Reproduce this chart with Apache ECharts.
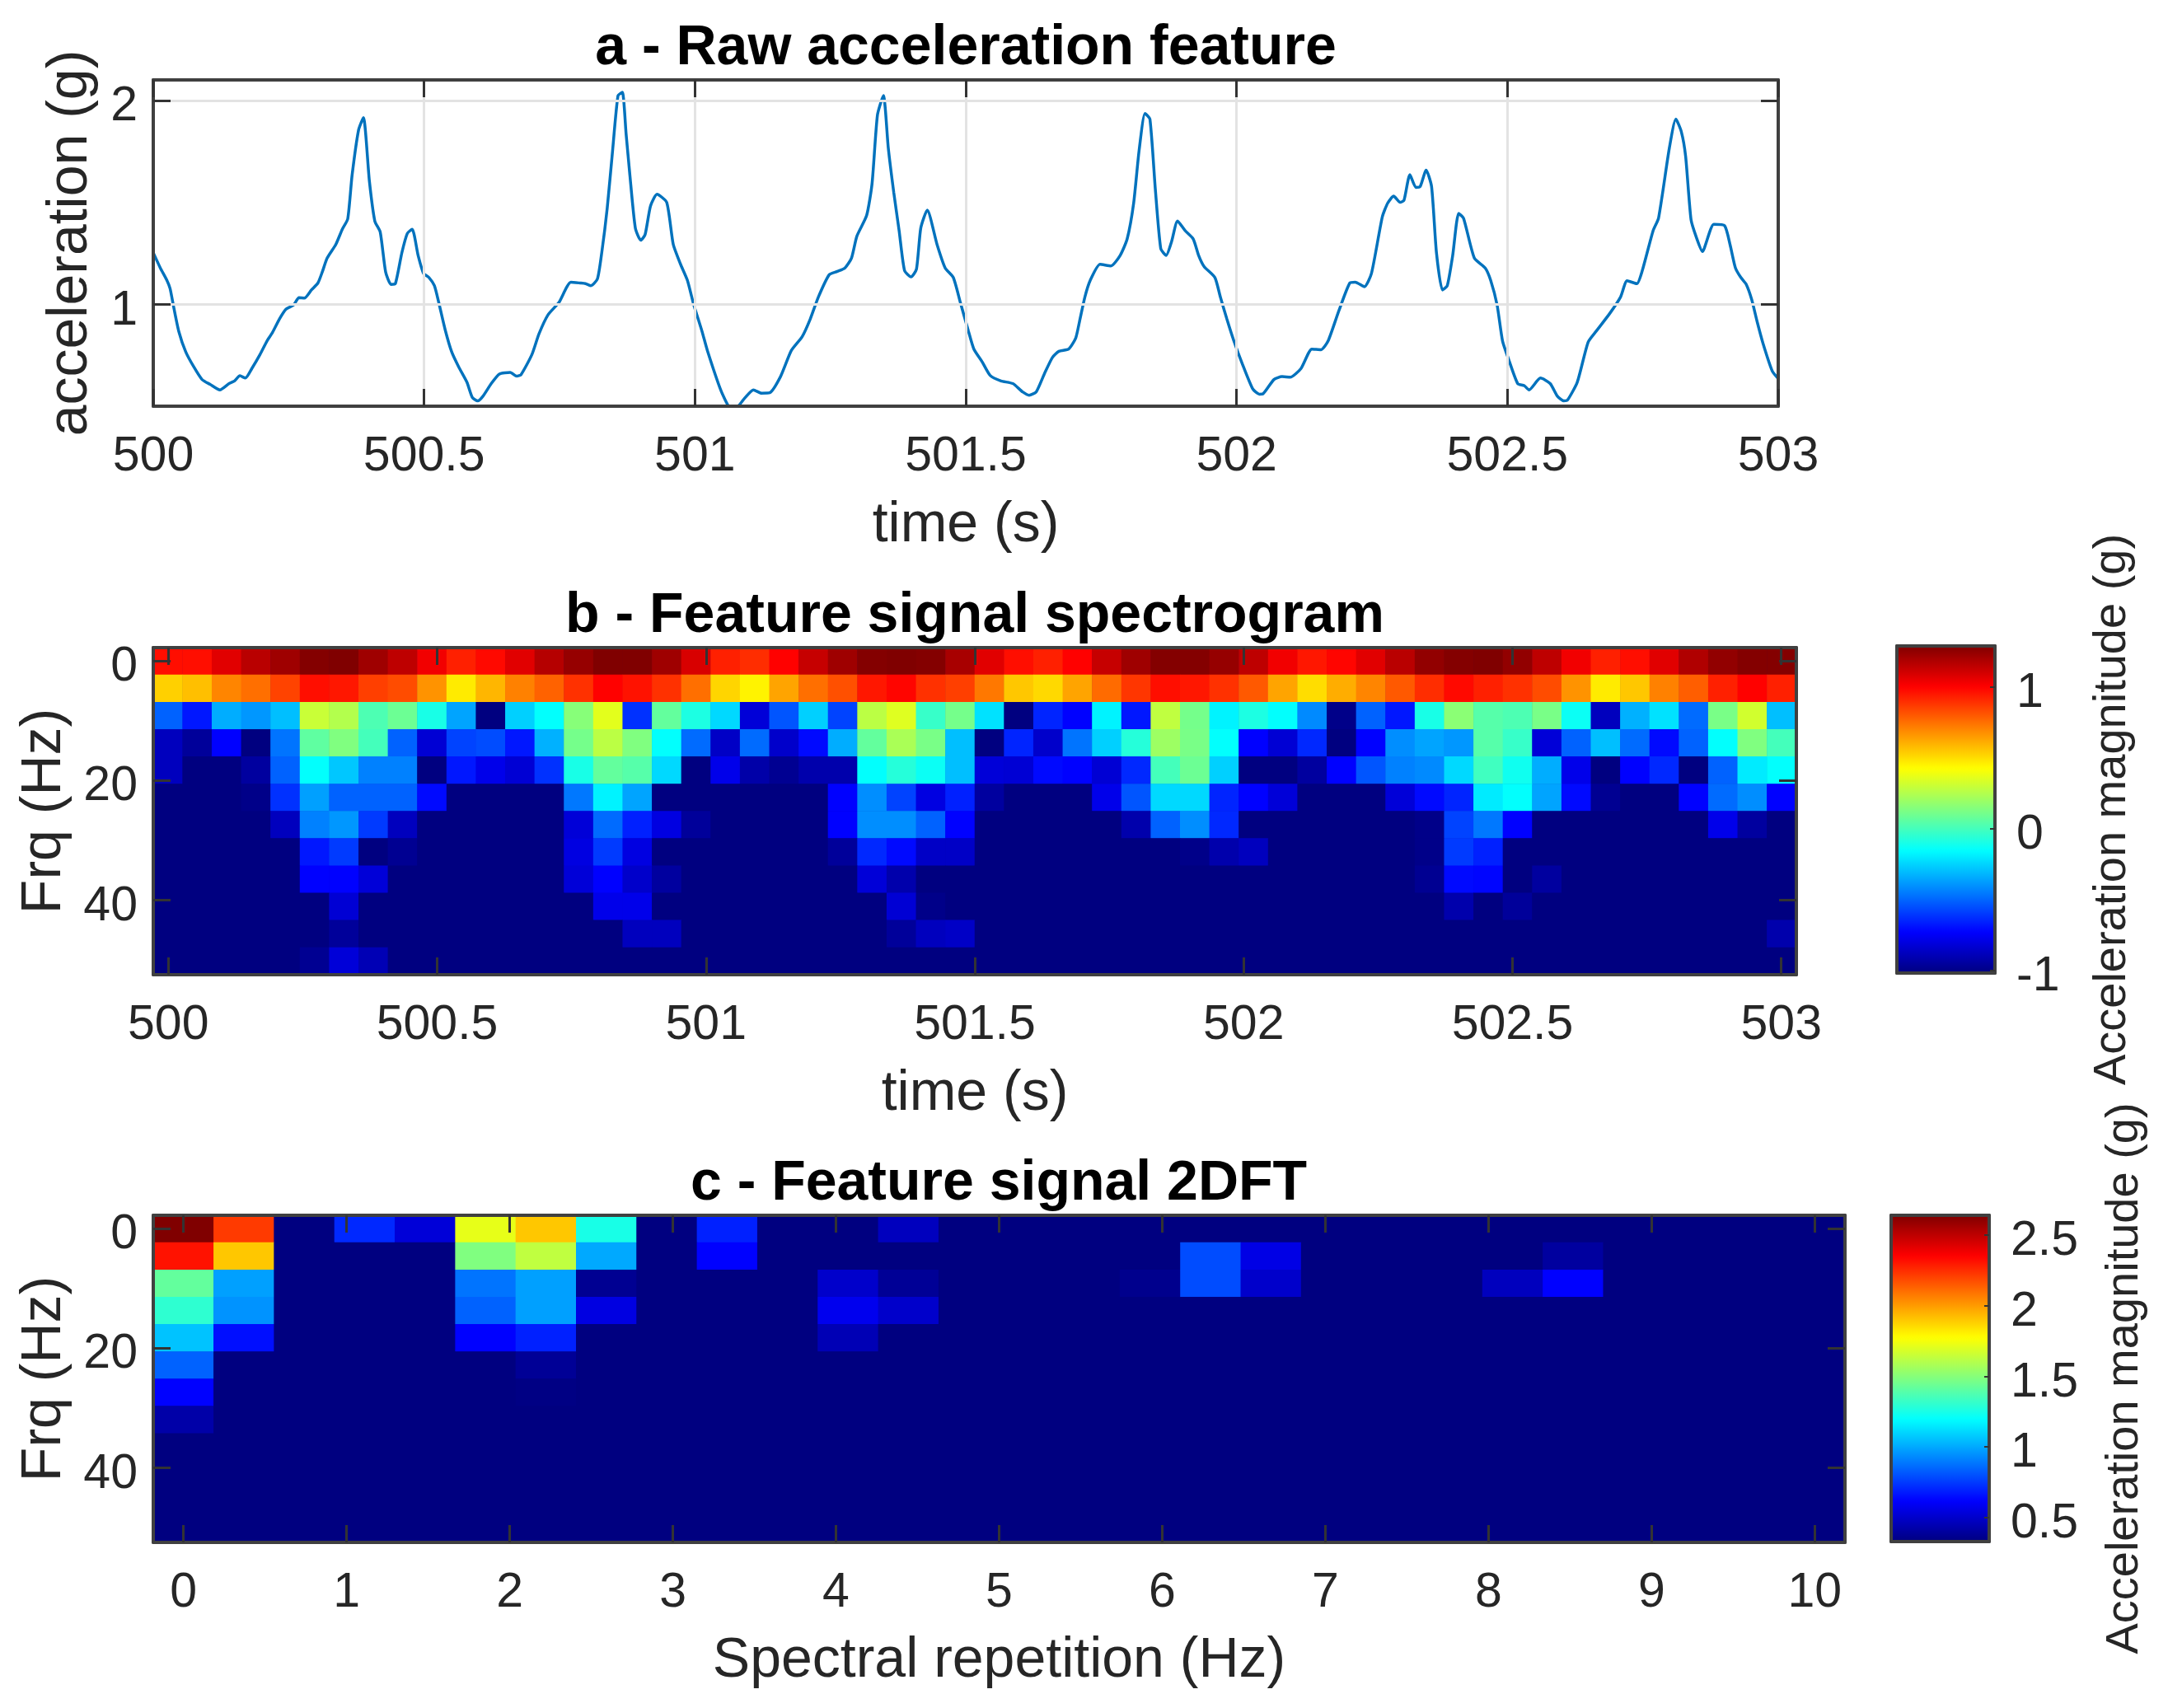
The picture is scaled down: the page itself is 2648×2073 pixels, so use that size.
<!DOCTYPE html>
<html>
<head>
<meta charset="utf-8">
<title>Feature signal</title>
<style>
html, body { margin: 0; padding: 0; background: #fff; }
#main { width: 2648px; height: 2073px; }
</style>
<script src="https://cdn.jsdelivr.net/npm/echarts@6/dist/echarts.min.js"></script>
</head>
<body>
<div id="main"></div>
<script>
/****************data*******************/
var rawTime = [
  500.000,500.013,500.025,500.031,500.038,500.047,500.060,500.075,500.090,500.105,500.123,500.140,500.150,500.160,500.170,500.182,
  500.197,500.210,500.220,500.233,500.245,500.259,500.269,500.279,500.292,500.304,500.312,500.321,500.337,500.349,500.359,500.367,
  500.379,500.388,500.399,500.409,500.419,500.429,500.439,500.447,500.459,500.469,500.478,500.489,500.499,500.509,500.519,500.527,
  500.539,500.551,500.564,500.579,500.589,500.599,500.609,500.624,500.639,500.659,500.671,500.679,500.699,500.712,500.729,500.749,
  500.771,500.788,500.798,500.808,500.820,500.828,500.838,500.848,500.858,500.866,500.873,500.880,500.890,500.900,500.908,500.918,
  500.930,500.948,500.960,500.973,500.986,500.998,501.013,501.023,501.048,501.063,501.073,501.081,501.093,501.108,501.123,501.138,
  501.158,501.178,501.198,501.213,501.228,501.248,501.263,501.277,501.289,501.299,501.317,501.327,501.337,501.348,501.357,501.367,
  501.377,501.387,501.399,501.409,501.417,501.429,501.447,501.462,501.477,501.490,501.505,501.515,501.530,501.545,501.565,501.587,
  501.605,501.617,501.630,501.645,501.660,501.672,501.690,501.703,501.710,501.720,501.730,501.748,501.768,501.785,501.798,501.810,
  501.820,501.831,501.840,501.850,501.860,501.870,501.880,501.891,501.905,501.920,501.930,501.940,501.960,501.970,501.982,501.995,
  502.010,502.030,502.042,502.049,502.069,502.084,502.099,502.119,502.139,502.156,502.169,502.189,502.209,502.219,502.236,502.249,
  502.269,502.279,502.290,502.302,502.309,502.320,502.331,502.339,502.350,502.360,502.369,502.380,502.389,502.399,502.410,502.419,
  502.439,502.459,502.469,502.481,502.491,502.502,502.519,502.531,502.540,502.561,502.579,502.592,502.604,502.611,502.629,502.649,
  502.664,502.689,502.709,502.721,502.739,502.749,502.769,502.779,502.799,502.811,502.821,502.829,502.839,502.849,502.860,502.881,
  502.901,502.911,502.921,502.931,502.941,502.951,502.961,502.972,502.989,503.000
];
var rawAccel = [
  1.253,1.178,1.118,1.077,0.982,0.868,0.766,0.692,0.631,0.607,0.580,0.611,0.624,0.649,0.638,0.685,
  0.753,0.820,0.861,0.928,0.976,0.996,1.032,1.030,1.070,1.104,1.158,1.226,1.293,1.368,1.418,1.631,
  1.854,1.915,1.604,1.408,1.354,1.158,1.097,1.101,1.253,1.347,1.368,1.239,1.151,1.131,1.091,1.009,
  0.874,0.766,0.692,0.618,0.543,0.526,0.550,0.611,0.658,0.666,0.647,0.655,0.753,0.854,0.949,1.009,
  1.108,1.104,1.101,1.091,1.124,1.253,1.469,1.753,2.023,2.039,1.834,1.631,1.374,1.314,1.341,1.482,
  1.539,1.499,1.293,1.199,1.118,0.996,0.868,0.773,0.577,0.496,0.482,0.503,0.543,0.580,0.564,0.566,
  0.645,0.773,0.841,0.928,1.036,1.145,1.161,1.178,1.226,1.334,1.435,1.591,1.928,2.023,1.766,1.550,
  1.361,1.165,1.134,1.172,1.374,1.462,1.293,1.178,1.131,1.009,0.868,0.780,0.719,0.651,0.624,0.611,
  0.570,0.554,0.570,0.658,0.739,0.769,0.780,0.834,0.915,1.036,1.118,1.196,1.188,1.239,1.320,1.496,
  1.753,1.935,1.908,1.564,1.273,1.239,1.307,1.408,1.361,1.320,1.239,1.185,1.131,1.036,0.928,0.820,
  0.712,0.584,0.559,0.561,0.631,0.645,0.642,0.685,0.780,0.777,0.820,0.969,1.104,1.108,1.086,1.151,
  1.428,1.496,1.530,1.500,1.509,1.635,1.573,1.577,1.658,1.577,1.253,1.070,1.091,1.239,1.445,1.422,
  1.226,1.178,1.118,0.996,0.820,0.732,0.611,0.601,0.580,0.638,0.611,0.550,0.526,0.530,0.618,0.814,
  0.868,0.955,1.036,1.115,1.101,1.165,1.361,1.422,1.766,1.908,1.847,1.726,1.415,1.327,1.259,1.392,
  1.385,1.293,1.178,1.131,1.097,1.023,0.915,0.807,0.672,0.635
];

// spectrogram, one list per frequency row, 56 columns, L is the colour floor
var L = -1.02;
var spectroFreqs = ['0', '4.5', '9', '13.6', '18', '22.7', '27', '32', '36', '41', '45.5', '50'];
var spectroRow0 = [.97,.97,1.07,1.16,1.22,1.28,1.29,1.22,1.15,1.03, .93,.98,1.07,1.17,1.24,1.29,1.29,1.22,1.09,.93, .9,1,1.13,1.22,1.28,1.29,1.28,1.2,1.07,.97, .93,1,1.13,1.22,1.28,1.28,1.24,1.15,1.03,.95, .99,1.07,1.16,1.25,1.28,1.29,1.25,1.15,1.03,.93, .97,1.07,1.18,1.25,1.28,1.28];
var spectroRow1 = [.53,.57,.7,.75,.85,.97,.95,.86,.83,.67, .47,.59,.71,.78,.89,1,.96,.89,.75,.52, .45,.63,.75,.82,.95,.99,.89,.86,.73,.55, .51,.63,.76,.88,.97,.95,.89,.8,.63,.5, .61,.7,.8,.9,.98,.93,.89,.83,.67,.47, .55,.71,.79,.93,1,.93];
var spectroRow2 = [-.51,-.68,-.34,-.39,-.3,.3,.25,.02,.09,-.1, -.36,L,-.26,-.15,.15,.36,-.62,.07,-.09,-.24, -.82,-.54,-.26,-.58,.27,.35,-.03,.11,-.22,L, -.65,-.73,-.18,-.68,.28,.11,-.18,-.09,-.15,-.42, -1,-.51,-.68,-.1,.16,.04,.02,.12,-.13,-.88, -.33,-.22,-.49,.12,.32,-.3];
var spectroRow3 = [-.88,-.96,-.73,L,-.47,.06,.135,0,-.51,-.83, -.58,-.56,-.68,-.33,.11,.27,.135,-.15,-.49,-.86, -.49,-.85,-.71,-.34,.07,.23,.12,-.3,L,-.65, -.85,-.47,-.26,-.07,.2,.12,-.15,-.73,-.83,-.64, L,-.73,-.41,-.36,-.39,.04,-.03,-.82,-.51,-.3, -.49,-.71,-.51,-.15,.135,0];
var spectroRow4 = [-.88,L,L,-.95,-.51,-.15,-.28,-.44,-.44,L, -.68,-.78,-.83,-.62,-.1,.07,.04,-.24,L,-.78, -.93,-.98,-.92,-.92,-.15,-.07,-.13,-.3,-.82,-.83, -.71,-.73,-.83,-.64,0,.09,-.26,L,L,-.95, -.73,-.54,-.44,-.42,-.24,-.01,-.12,-.34,-.78,L, -.73,-.64,L,-.51,-.2,-.15];
var spectroRow5 = [L,L,L,-1,-.62,-.37,-.51,-.51,-.51,-.71, L,L,L,L,-.46,-.18,-.36,L,L,L, L,L,L,-.73,-.41,-.58,-.8,-.66,-.95,L, L,L,-.78,-.54,-.24,-.24,-.65,-.73,-.82,L, L,L,-.82,-.71,-.65,-.2,-.15,-.36,-.71,-.98, L,L,-.73,-.49,-.41,-.73];
var spectroRow6 = [L,L,L,L,-.88,-.44,-.39,-.6,-.88,L, L,L,L,L,-.82,-.49,-.66,-.8,-.96,L, L,L,L,-.73,-.41,-.41,-.51,-.73,L,L, L,L,L,-.92,-.51,-.41,-.64,L,L,L, L,L,L,-1,-.58,-.46,-.73,L,L,L, L,L,L,-.78,-.95,L];
var spectroRow7 = [L,L,L,L,L,-.68,-.6,L,-.98,L, L,L,L,L,-.8,-.6,-.8,L,L,L, L,L,L,-.96,-.64,-.71,-.86,-.86,L,L, L,L,L,L,L,-1,-.92,-.88,L,L, L,L,L,-1,-.6,-.66,L,L,L,L, L,L,L,L,L,L];
var spectroRow8 = [L,L,L,L,L,-.73,-.73,-.82,L,L, L,L,L,L,-.82,-.73,-.85,-.95,L,L, L,L,L,L,-.82,-.92,L,L,L,L, L,L,L,L,L,L,L,L,L,L, L,L,L,-.98,-.71,-.72,L,-.95,L,L, L,L,L,L,L,L];
var spectroRow9 = [L,L,L,L,L,L,-.83,L,L,L, L,L,L,L,L,-.78,-.78,L,L,L, L,L,L,L,L,-.83,-1,L,L,L, L,L,L,L,L,L,L,L,L,L, L,L,L,L,-.92,L,-.96,L,L,L, L,L,L,L,L,L];
var spectroRow10 = [L,L,L,L,L,L,-.96,L,L,L, L,L,L,L,L,L,-.88,-.88,L,L, L,L,L,L,L,-.96,-.88,-.86,L,L, L,L,L,L,L,L,L,L,L,L, L,L,L,L,L,L,L,L,L,L, L,L,L,L,L,-.92];
var spectroRow11 = [L,L,L,L,L,-.98,-.82,-.9,L,L, L,L,L,L,L,L,L,L,L,L, L,L,L,L,L,L,L,L,L,L, L,L,L,L,L,L,L,L,L,L, L,L,L,L,L,L,L,L,L,L, L,L,L,L,L,L];
var spectroRows = [spectroRow0, spectroRow1, spectroRow2, spectroRow3, spectroRow4, spectroRow5, spectroRow6, spectroRow7, spectroRow8, spectroRow9, spectroRow10, spectroRow11];

// 2DFT, one list per frequency row, 28 columns, F is the colour floor
var F = .33;
var dftRow0 = [2.64,2.22,F,.71,.53,1.72,1.9,1.25,F,.69, F,F,.47,F,F,F,F,F,F,F, F,F,F,F,F,F,F,F];
var dftRow1 = [2.31,1.9,F,F,F,1.485,1.63,1,F,.62, F,F,F,F,F,F,F,.79,.56,F, F,F,F,.4,F,F,F,F];
var dftRow2 = [1.42,.98,F,F,F,.88,.98,.37,F,F, F,.5,.38,F,F,F,.36,.79,.5,F, F,F,.47,.62,F,F,F,F];
var dftRow3 = [1.3,.95,F,F,F,.84,.98,.55,F,F, F,.58,.5,F,F,F,F,F,F,F, F,F,F,F,F,F,F,F];
var dftRow4 = [1.06,.65,F,F,F,.62,.69,F,F,F, F,.45,F,F,F,F,F,F,F,F, F,F,F,F,F,F,F,F];
var dftRow5 = [.84,F,F,F,F,F,.38,F,F,F, F,F,F,F,F,F,F,F,F,F, F,F,F,F,F,F,F,F];
var dftRow6 = [.62,F,F,F,F,F,.34,F,F,F, F,F,F,F,F,F,F,F,F,F, F,F,F,F,F,F,F,F];
var dftRow7 = [.42,F,F,F,F,F,F,F,F,F, F,F,F,F,F,F,F,F,F,F, F,F,F,F,F,F,F,F];
var dftRow8 = [F,F,F,F,F,F,F,F,F,F, F,F,F,F,F,F,F,F,F,F, F,F,F,F,F,F,F,F];
var dftRows = [dftRow0, dftRow1, dftRow2, dftRow3, dftRow4, dftRow5, dftRow6, dftRow7, dftRow8, dftRow8, dftRow8, dftRow8];

var timeTicks = [500, 500.5, 501, 501.5, 502, 502.5, 503];
var accelTicks = [1, 2];
var freqTicks = [0, 20, 40];
var repetitionTicks = [0, 1, 2, 3, 4, 5, 6, 7, 8, 9, 10];
var spectroBarTicks = [-1, 0, 1];
var dftBarTicks = [0.5, 1, 1.5, 2, 2.5];
var jetColors = ['#000080', '#0000ff', '#0080ff', '#00ffff', '#80ff80', '#ffff00', '#ff8000', '#ff0000', '#800000'];

/****************layout*******************/
var FONT = 'Liberation Sans';
var TEXT = '#262626';
var FRAME = '#404040';
var NAVY = '#000080';
var gridA = {left: 186, top: 97, width: 1972, height: 396};
var gridB = {left: 186, top: 786, width: 1994, height: 397, show: true, backgroundColor: NAVY, borderWidth: 0};
var gridC = {left: 186, top: 1475, width: 2053, height: 397, show: true, backgroundColor: NAVY, borderWidth: 0};
var barB = {left: 2302, top: 784, width: 119, height: 397};
var barC = {left: 2295, top: 1475, width: 119, height: 396};

// a framed value axis; pos is left/right/top/bottom, extra overrides
function frameAxis(grid, pos, min, max, ticks, extra) {
    return Object.assign({
        type: 'value',
        gridIndex: grid,
        position: pos,
        min: min,
        max: max,
        z: 10,
        axisLine: {show: true, onZero: false, lineStyle: {color: FRAME, width: 4}},
        axisTick: {show: true, inside: true, length: 21, customValues: ticks, lineStyle: {color: '#333', width: 3}},
        axisLabel: {show: false},
        splitLine: {show: false}
    }, extra || {});
}
function shownLabel(ticks, margin) {
    return {show: true, customValues: ticks, margin: margin, color: TEXT, fontFamily: FONT, fontSize: 59};
}
// y tick labels sit a little under their tick in the original
function sideLabel(ticks, margin) {
    return Object.assign(shownLabel(ticks, margin), {verticalAlign: 'top', lineHeight: 16});
}
function axisName(text, gap, size) {
    return {
        name: text,
        nameLocation: 'middle',
        nameGap: gap,
        nameMoveOverlap: false,
        nameTextStyle: {color: TEXT, fontFamily: FONT, fontSize: size || 68}
    };
}
function hiddenCategory(grid, data, inverse) {
    return {type: 'category', gridIndex: grid, data: data, show: false, inverse: inverse};
}
function heatData(rows) {
    var out = [];
    rows.forEach(function (row, r) {
        row.forEach(function (v, c) {
            out.push([c, r, v]);
        });
    });
    return out;
}
function columnNames(rows) {
    return rows[0].map(function (v, i) { return String(i); });
}
function panelTitle(text, x, y) {
    return {
        text: text, left: x, top: y, textAlign: 'center',
        textStyle: {color: '#000', fontFamily: FONT, fontSize: 68, fontWeight: 'bold'}
    };
}
function colorMap(series, min, max, box) {
    return {
        type: 'continuous', seriesIndex: series, min: min, max: max,
        calculable: false, hoverLink: false, orient: 'vertical', padding: 0,
        left: box.left, top: box.top, itemWidth: box.width, itemHeight: box.height,
        inRange: {color: jetColors}
    };
}

var bRange = [499.972, 503.028];
var cRange = [-0.185, 10.185];
var freqRange = [-2.2, 52.5];

var option = {
    animation: false,
    backgroundColor: '#fff',
    title: [
        panelTitle('a - Raw acceleration feature', 1167, 20),
        panelTitle('b - Feature signal spectrogram', 1178, 709),
        panelTitle('c - Feature signal 2DFT', 1207, 1398)
    ],
    grid: [gridA, gridB, gridC, barB, barC],
    xAxis: [
        // panel a
        Object.assign(frameAxis(0, 'bottom', 500, 503, timeTicks, {
            axisLabel: shownLabel(timeTicks, 32),
            splitLine: {show: true, lineStyle: {color: '#e3e3e3', width: 3}}
        }), axisName('time (s)', 111)),
        frameAxis(0, 'top', 500, 503, timeTicks),
        // panel b
        hiddenCategory(1, columnNames(spectroRows), false),
        Object.assign(frameAxis(1, 'bottom', bRange[0], bRange[1], timeTicks, {
            axisLabel: shownLabel(timeTicks, 32)
        }), axisName('time (s)', 111)),
        frameAxis(1, 'top', bRange[0], bRange[1], timeTicks),
        // panel c
        hiddenCategory(2, columnNames(dftRows), false),
        Object.assign(frameAxis(2, 'bottom', cRange[0], cRange[1], repetitionTicks, {
            axisLabel: shownLabel(repetitionTicks, 32)
        }), axisName('Spectral repetition (Hz)', 110)),
        frameAxis(2, 'top', cRange[0], cRange[1], repetitionTicks),
        // colour bars, frame only
        frameAxis(3, 'bottom', 0, 1, []),
        frameAxis(3, 'top', 0, 1, []),
        frameAxis(4, 'bottom', 0, 1, []),
        frameAxis(4, 'top', 0, 1, [])
    ],
    yAxis: [
        // panel a
        Object.assign(frameAxis(0, 'left', 0.5, 2.1, accelTicks, {
            axisLabel: sideLabel(accelTicks, 19),
            splitLine: {show: true, lineStyle: {color: '#e3e3e3', width: 3}}
        }), axisName('acceleration (g)', 66)),
        frameAxis(0, 'right', 0.5, 2.1, accelTicks),
        // panel b
        hiddenCategory(1, spectroFreqs, true),
        Object.assign(frameAxis(1, 'left', freqRange[0], freqRange[1], freqTicks, {
            inverse: true,
            axisLabel: sideLabel(freqTicks, 19)
        }), axisName('Frq (Hz)', 98)),
        frameAxis(1, 'right', freqRange[0], freqRange[1], freqTicks, {inverse: true}),
        // panel c
        hiddenCategory(2, spectroFreqs, true),
        Object.assign(frameAxis(2, 'left', freqRange[0], freqRange[1], freqTicks, {
            inverse: true,
            axisLabel: sideLabel(freqTicks, 19)
        }), axisName('Frq (Hz)', 98)),
        frameAxis(2, 'right', freqRange[0], freqRange[1], freqTicks, {inverse: true}),
        // colour bars
        frameAxis(3, 'left', -1.02, 1.29, []),
        Object.assign(frameAxis(3, 'right', -1.02, 1.29, spectroBarTicks, {
            axisTick: {show: true, inside: true, length: 6, customValues: spectroBarTicks, lineStyle: {color: '#333', width: 2}},
            axisLabel: sideLabel(spectroBarTicks, 26)
        }), axisName('Acceleration magnitude (g)', 115, 56), {nameRotate: 90}),
        frameAxis(4, 'left', 0.33, 2.64, []),
        Object.assign(frameAxis(4, 'right', 0.33, 2.64, dftBarTicks, {
            axisTick: {show: true, inside: true, length: 6, customValues: dftBarTicks, lineStyle: {color: '#333', width: 2}},
            axisLabel: sideLabel(dftBarTicks, 26)
        }), axisName('Acceleration magnitude (g)', 137, 56), {nameRotate: 90})
    ],
    visualMap: [
        colorMap(1, -1.02, 1.29, barB),
        colorMap(2, 0.33, 2.64, barC)
    ],
    series: [
        {
            type: 'line',
            xAxisIndex: 0,
            yAxisIndex: 0,
            showSymbol: false,
            clip: true,
            smooth: 0.2,
            lineStyle: {color: '#0072BD', width: 3.5},
            data: rawTime.map(function (t, i) { return [t, rawAccel[i]]; }),
            z: 5
        },
        {
            type: 'heatmap',
            xAxisIndex: 2,
            yAxisIndex: 2,
            progressive: 0,
            itemStyle: {borderWidth: 0},
            data: heatData(spectroRows)
        },
        {
            type: 'heatmap',
            xAxisIndex: 5,
            yAxisIndex: 5,
            progressive: 0,
            itemStyle: {borderWidth: 0},
            data: heatData(dftRows)
        }
    ]
};
var chart = echarts.init(document.getElementById('main'));
chart.setOption(option);
</script>
</body>
</html>
